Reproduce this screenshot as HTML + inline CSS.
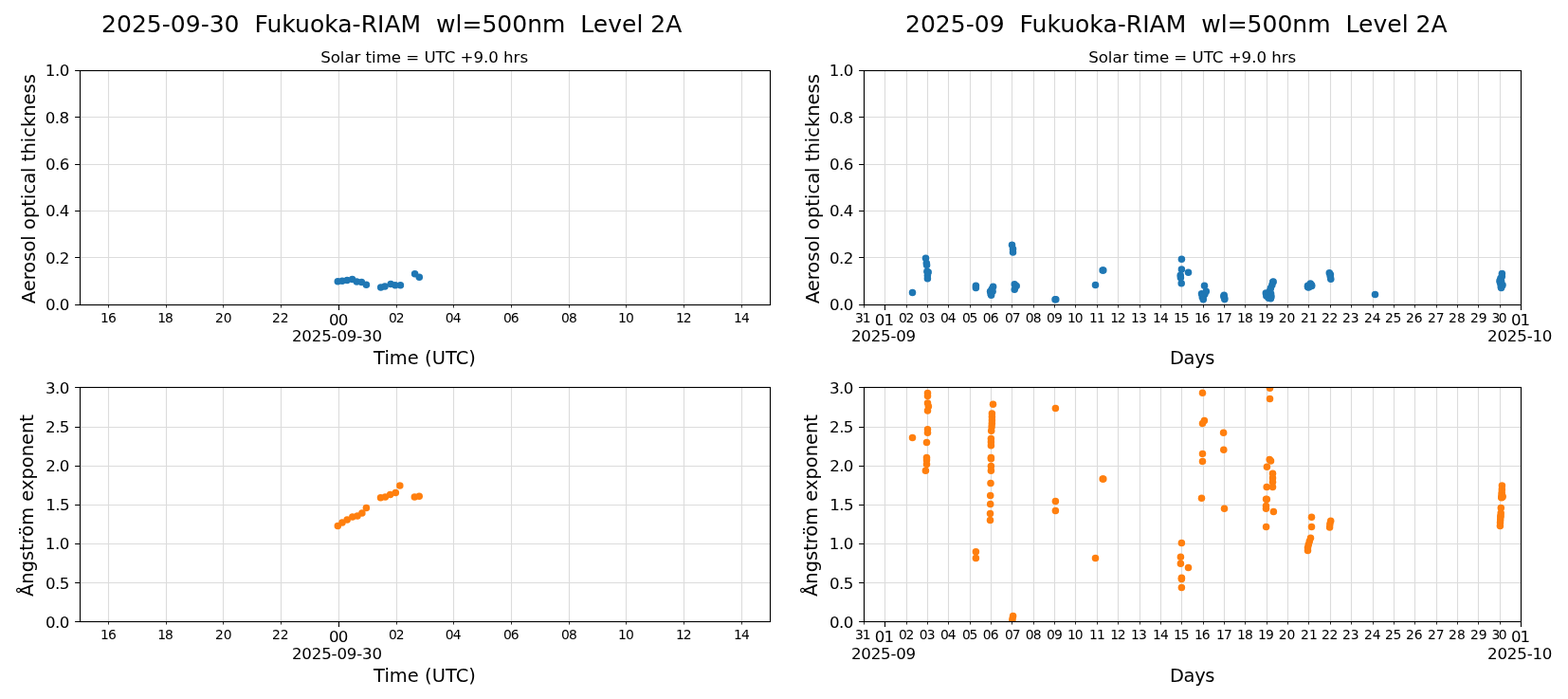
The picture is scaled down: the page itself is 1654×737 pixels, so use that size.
<!DOCTYPE html>
<html lang="en">
<head>
<meta charset="utf-8">
<title>Fukuoka-RIAM aerosol optical thickness</title>
<style>
html,body{margin:0;padding:0;background:#fff;overflow:hidden}
svg{display:block}
text{white-space:pre}
</style>
</head>
<body>
<svg width="1654" height="737" viewBox="0 0 1654 737" font-family='"DejaVu Sans", "Liberation Sans", sans-serif' fill="#000">
<rect width="1654" height="737" fill="#fff"/>
<defs>
<clipPath id="clip-tl"><rect x="84.5" y="74.5" width="728.0" height="247.0"/></clipPath>
<clipPath id="clip-bl"><rect x="84.5" y="408.5" width="728.0" height="247.0"/></clipPath>
<clipPath id="clip-tr"><rect x="911.5" y="74.5" width="693.0" height="247.0"/></clipPath>
<clipPath id="clip-br"><rect x="911.5" y="408.5" width="693.0" height="247.0"/></clipPath>
</defs>
<text id="title_l" x="413.25" y="34.00" font-size="25.000" text-anchor="middle" textLength="612.27" lengthAdjust="spacing">2025-09-30  Fukuoka-RIAM  wl=500nm  Level 2A</text>
<text id="title_r" x="1240.82" y="34.00" font-size="25.000" text-anchor="middle" textLength="571.64" lengthAdjust="spacing">2025-09  Fukuoka-RIAM  wl=500nm  Level 2A</text>
<g id="ax-tl">
<path d="M114.5 74.5V321.5M175.5 74.5V321.5M235.5 74.5V321.5M296.5 74.5V321.5M357.5 74.5V321.5M418.5 74.5V321.5M478.5 74.5V321.5M539.5 74.5V321.5M600.5 74.5V321.5M660.5 74.5V321.5M721.5 74.5V321.5M782.5 74.5V321.5M84.5 74.5H812.5M84.5 123.5H812.5M84.5 173.5H812.5M84.5 222.5H812.5M84.5 271.5H812.5M84.5 321.5H812.5" stroke="#dcdcdc" stroke-width="1.11" fill="none"/>
<g fill="#1f77b4" clip-path="url(#clip-tl)">
<circle cx="356.3" cy="296.7" r="3.75"/>
<circle cx="361.0" cy="296.2" r="3.75"/>
<circle cx="366.1" cy="295.6" r="3.75"/>
<circle cx="371.6" cy="294.5" r="3.75"/>
<circle cx="376.3" cy="297.0" r="3.75"/>
<circle cx="381.4" cy="297.4" r="3.75"/>
<circle cx="386.4" cy="300.3" r="3.75"/>
<circle cx="401.7" cy="302.9" r="3.75"/>
<circle cx="406.0" cy="302.1" r="3.75"/>
<circle cx="412.2" cy="299.6" r="3.75"/>
<circle cx="416.9" cy="300.7" r="3.75"/>
<circle cx="422.4" cy="300.7" r="3.75"/>
<circle cx="437.6" cy="288.7" r="3.75"/>
<circle cx="442.3" cy="292.3" r="3.75"/>
</g>
<path d="M84.5 74.5h-5.4M84.5 123.5h-5.4M84.5 173.5h-5.4M84.5 222.5h-5.4M84.5 271.5h-5.4M84.5 321.5h-5.4M357.5 321.5v5.4" stroke="#000" stroke-width="1.11" fill="none"/>
<path d="M114.5 321.5v3M175.5 321.5v3M235.5 321.5v3M296.5 321.5v3M418.5 321.5v3M478.5 321.5v3M539.5 321.5v3M600.5 321.5v3M660.5 321.5v3M721.5 321.5v3M782.5 321.5v3" stroke="#000" stroke-width="0.83" fill="none"/>
<rect x="84.5" y="74.5" width="728.0" height="247.0" fill="none" stroke="#000" stroke-width="1.11" stroke-linejoin="miter"/>
<text id="yt_tl_1.0" x="73.34" y="80.00" font-size="16.667" text-anchor="end" textLength="25.53" lengthAdjust="spacing">1.0</text>
<text id="yt_tl_0.8" x="73.06" y="130.00" font-size="16.667" text-anchor="end" textLength="25.26" lengthAdjust="spacing">0.8</text>
<text id="yt_tl_0.6" x="73.40" y="179.00" font-size="16.667" text-anchor="end" textLength="25.40" lengthAdjust="spacing">0.6</text>
<text id="yt_tl_0.4" x="73.40" y="228.00" font-size="16.667" text-anchor="end" textLength="25.35" lengthAdjust="spacing">0.4</text>
<text id="yt_tl_0.2" x="73.47" y="278.00" font-size="16.667" text-anchor="end" textLength="25.55" lengthAdjust="spacing">0.2</text>
<text id="yt_tl_0.0" x="73.38" y="327.00" font-size="16.667" text-anchor="end" textLength="25.32" lengthAdjust="spacing">0.0</text>
<text id="xt_tl_m16" x="114.41" y="340.00" font-size="13.889" text-anchor="middle" textLength="16.71" lengthAdjust="spacing">16</text>
<text id="xt_tl_m18" x="174.51" y="340.00" font-size="13.889" text-anchor="middle" textLength="16.77" lengthAdjust="spacing">18</text>
<text id="xt_tl_m20" x="235.77" y="340.00" font-size="13.889" text-anchor="middle" textLength="17.56" lengthAdjust="spacing">20</text>
<text id="xt_tl_m22" x="295.74" y="340.00" font-size="13.889" text-anchor="middle" textLength="17.54" lengthAdjust="spacing">22</text>
<text id="xt_tl_M0" x="357.12" y="343.00" font-size="16.667" text-anchor="middle" textLength="20.26" lengthAdjust="spacing">00</text>
<text id="xt_tl_M0_2" x="355.53" y="360.00" font-size="16.667" text-anchor="middle" textLength="95.14" lengthAdjust="spacing">2025-09-30</text>
<text id="xt_tl_m02" x="418.28" y="340.00" font-size="13.889" text-anchor="middle" textLength="16.75" lengthAdjust="spacing">02</text>
<text id="xt_tl_m04" x="478.26" y="340.00" font-size="13.889" text-anchor="middle" textLength="16.82" lengthAdjust="spacing">04</text>
<text id="xt_tl_m06" x="539.35" y="340.00" font-size="13.889" text-anchor="middle" textLength="16.61" lengthAdjust="spacing">06</text>
<text id="xt_tl_m08" x="600.35" y="340.00" font-size="13.889" text-anchor="middle" textLength="16.71" lengthAdjust="spacing">08</text>
<text id="xt_tl_m10" x="660.43" y="340.00" font-size="13.889" text-anchor="middle" textLength="16.69" lengthAdjust="spacing">10</text>
<text id="xt_tl_m12" x="721.35" y="340.00" font-size="13.889" text-anchor="middle" textLength="16.56" lengthAdjust="spacing">12</text>
<text id="xt_tl_m14" x="782.45" y="340.00" font-size="13.889" text-anchor="middle" textLength="16.68" lengthAdjust="spacing">14</text>
<text id="xl_tl" x="448.00" y="384.00" font-size="19.444" text-anchor="middle" textLength="107.88" lengthAdjust="spacing">Time (UTC)</text>
<text id="yl_tl" transform="translate(37.00,199.20) rotate(-90)" font-size="19.444" text-anchor="middle" textLength="242.22" lengthAdjust="spacing">Aerosol optical thickness</text>
<text id="sub_tl" x="447.61" y="66.00" font-size="16.667" text-anchor="middle" textLength="218.96" lengthAdjust="spacing">Solar time = UTC +9.0 hrs</text>
</g>
<g id="ax-bl">
<path d="M114.5 408.5V655.5M175.5 408.5V655.5M235.5 408.5V655.5M296.5 408.5V655.5M357.5 408.5V655.5M418.5 408.5V655.5M478.5 408.5V655.5M539.5 408.5V655.5M600.5 408.5V655.5M660.5 408.5V655.5M721.5 408.5V655.5M782.5 408.5V655.5M84.5 408.5H812.5M84.5 450.5H812.5M84.5 491.5H812.5M84.5 532.5H812.5M84.5 573.5H812.5M84.5 614.5H812.5M84.5 655.5H812.5" stroke="#dcdcdc" stroke-width="1.11" fill="none"/>
<g fill="#ff7f0e" clip-path="url(#clip-bl)">
<circle cx="356.3" cy="554.4" r="3.75"/>
<circle cx="361.0" cy="550.9" r="3.75"/>
<circle cx="366.2" cy="548.0" r="3.75"/>
<circle cx="371.8" cy="544.9" r="3.75"/>
<circle cx="377.0" cy="544.0" r="3.75"/>
<circle cx="381.9" cy="541.1" r="3.75"/>
<circle cx="386.4" cy="535.4" r="3.75"/>
<circle cx="401.5" cy="524.8" r="3.75"/>
<circle cx="406.4" cy="524.0" r="3.75"/>
<circle cx="411.6" cy="521.6" r="3.75"/>
<circle cx="417.3" cy="519.5" r="3.75"/>
<circle cx="421.8" cy="512.0" r="3.75"/>
<circle cx="437.3" cy="524.0" r="3.75"/>
<circle cx="442.2" cy="523.2" r="3.75"/>
</g>
<path d="M84.5 408.5h-5.4M84.5 450.5h-5.4M84.5 491.5h-5.4M84.5 532.5h-5.4M84.5 573.5h-5.4M84.5 614.5h-5.4M84.5 655.5h-5.4M357.5 655.5v5.4" stroke="#000" stroke-width="1.11" fill="none"/>
<path d="M114.5 655.5v3M175.5 655.5v3M235.5 655.5v3M296.5 655.5v3M418.5 655.5v3M478.5 655.5v3M539.5 655.5v3M600.5 655.5v3M660.5 655.5v3M721.5 655.5v3M782.5 655.5v3" stroke="#000" stroke-width="0.83" fill="none"/>
<rect x="84.5" y="408.5" width="728.0" height="247.0" fill="none" stroke="#000" stroke-width="1.11" stroke-linejoin="miter"/>
<text id="yt_bl_3.0" x="73.42" y="415.00" font-size="16.667" text-anchor="end" textLength="25.42" lengthAdjust="spacing">3.0</text>
<text id="yt_bl_2.5" x="73.46" y="456.00" font-size="16.667" text-anchor="end" textLength="25.36" lengthAdjust="spacing">2.5</text>
<text id="yt_bl_2.0" x="73.44" y="497.00" font-size="16.667" text-anchor="end" textLength="25.31" lengthAdjust="spacing">2.0</text>
<text id="yt_bl_1.5" x="73.61" y="538.00" font-size="16.667" text-anchor="end" textLength="25.45" lengthAdjust="spacing">1.5</text>
<text id="yt_bl_1.0" x="73.34" y="579.00" font-size="16.667" text-anchor="end" textLength="25.53" lengthAdjust="spacing">1.0</text>
<text id="yt_bl_0.5" x="73.43" y="621.00" font-size="16.667" text-anchor="end" textLength="25.49" lengthAdjust="spacing">0.5</text>
<text id="yt_bl_0.0" x="73.38" y="662.00" font-size="16.667" text-anchor="end" textLength="25.32" lengthAdjust="spacing">0.0</text>
<text id="xt_bl_m16" x="114.41" y="674.00" font-size="13.889" text-anchor="middle" textLength="16.71" lengthAdjust="spacing">16</text>
<text id="xt_bl_m18" x="174.51" y="674.00" font-size="13.889" text-anchor="middle" textLength="16.77" lengthAdjust="spacing">18</text>
<text id="xt_bl_m20" x="235.77" y="674.00" font-size="13.889" text-anchor="middle" textLength="17.56" lengthAdjust="spacing">20</text>
<text id="xt_bl_m22" x="295.74" y="674.00" font-size="13.889" text-anchor="middle" textLength="17.54" lengthAdjust="spacing">22</text>
<text id="xt_bl_M0" x="357.12" y="677.00" font-size="16.667" text-anchor="middle" textLength="20.26" lengthAdjust="spacing">00</text>
<text id="xt_bl_M0_2" x="355.53" y="695.00" font-size="16.667" text-anchor="middle" textLength="95.14" lengthAdjust="spacing">2025-09-30</text>
<text id="xt_bl_m02" x="418.28" y="674.00" font-size="13.889" text-anchor="middle" textLength="16.75" lengthAdjust="spacing">02</text>
<text id="xt_bl_m04" x="478.26" y="674.00" font-size="13.889" text-anchor="middle" textLength="16.82" lengthAdjust="spacing">04</text>
<text id="xt_bl_m06" x="539.35" y="674.00" font-size="13.889" text-anchor="middle" textLength="16.61" lengthAdjust="spacing">06</text>
<text id="xt_bl_m08" x="600.35" y="674.00" font-size="13.889" text-anchor="middle" textLength="16.71" lengthAdjust="spacing">08</text>
<text id="xt_bl_m10" x="660.43" y="674.00" font-size="13.889" text-anchor="middle" textLength="16.69" lengthAdjust="spacing">10</text>
<text id="xt_bl_m12" x="721.35" y="674.00" font-size="13.889" text-anchor="middle" textLength="16.56" lengthAdjust="spacing">12</text>
<text id="xt_bl_m14" x="782.45" y="674.00" font-size="13.889" text-anchor="middle" textLength="16.68" lengthAdjust="spacing">14</text>
<text id="xl_bl" x="448.00" y="719.00" font-size="19.444" text-anchor="middle" textLength="107.88" lengthAdjust="spacing">Time (UTC)</text>
<text id="yl_bl" transform="translate(35.00,533.00) rotate(-90)" font-size="19.444" text-anchor="middle">Ångström exponent</text>
</g>
<g id="ax-tr">
<path d="M911.5 74.5V321.5M933.5 74.5V321.5M956.5 74.5V321.5M978.5 74.5V321.5M1000.5 74.5V321.5M1023.5 74.5V321.5M1045.5 74.5V321.5M1067.5 74.5V321.5M1090.5 74.5V321.5M1112.5 74.5V321.5M1134.5 74.5V321.5M1157.5 74.5V321.5M1179.5 74.5V321.5M1202.5 74.5V321.5M1224.5 74.5V321.5M1246.5 74.5V321.5M1269.5 74.5V321.5M1291.5 74.5V321.5M1313.5 74.5V321.5M1336.5 74.5V321.5M1358.5 74.5V321.5M1380.5 74.5V321.5M1403.5 74.5V321.5M1425.5 74.5V321.5M1448.5 74.5V321.5M1470.5 74.5V321.5M1492.5 74.5V321.5M1515.5 74.5V321.5M1537.5 74.5V321.5M1559.5 74.5V321.5M1582.5 74.5V321.5M1604.5 74.5V321.5M911.5 74.5H1604.5M911.5 123.5H1604.5M911.5 173.5H1604.5M911.5 222.5H1604.5M911.5 271.5H1604.5M911.5 321.5H1604.5" stroke="#dcdcdc" stroke-width="1.11" fill="none"/>
<g fill="#1f77b4" clip-path="url(#clip-tr)">
<circle cx="962.5" cy="308.4" r="3.75"/>
<circle cx="976.5" cy="272.3" r="3.75"/>
<circle cx="977.3" cy="277.6" r="3.75"/>
<circle cx="977.6" cy="279.4" r="3.75"/>
<circle cx="977.9" cy="286.3" r="3.75"/>
<circle cx="979.2" cy="287.0" r="3.75"/>
<circle cx="978.4" cy="290.4" r="3.75"/>
<circle cx="978.4" cy="293.8" r="3.75"/>
<circle cx="1029.4" cy="301.2" r="3.75"/>
<circle cx="1029.4" cy="303.5" r="3.75"/>
<circle cx="1047.6" cy="302.2" r="3.75"/>
<circle cx="1046.3" cy="304.7" r="3.75"/>
<circle cx="1044.6" cy="307.2" r="3.75"/>
<circle cx="1047.1" cy="307.2" r="3.75"/>
<circle cx="1045.1" cy="309.7" r="3.75"/>
<circle cx="1045.6" cy="311.2" r="3.75"/>
<circle cx="1067.5" cy="258.2" r="3.75"/>
<circle cx="1068.5" cy="262.6" r="3.75"/>
<circle cx="1068.5" cy="266.1" r="3.75"/>
<circle cx="1070.2" cy="299.7" r="3.75"/>
<circle cx="1072.2" cy="301.4" r="3.75"/>
<circle cx="1070.2" cy="305.2" r="3.75"/>
<circle cx="1113.0" cy="315.8" r="3.75"/>
<circle cx="1113.8" cy="315.8" r="3.75"/>
<circle cx="1155.5" cy="300.4" r="3.75"/>
<circle cx="1163.1" cy="284.9" r="3.75"/>
<circle cx="1163.8" cy="285.0" r="3.75"/>
<circle cx="1246.4" cy="273.3" r="3.75"/>
<circle cx="1246.4" cy="284.1" r="3.75"/>
<circle cx="1253.5" cy="287.3" r="3.75"/>
<circle cx="1245.2" cy="290.2" r="3.75"/>
<circle cx="1245.4" cy="292.7" r="3.75"/>
<circle cx="1246.2" cy="298.7" r="3.75"/>
<circle cx="1270.5" cy="301.2" r="3.75"/>
<circle cx="1272.3" cy="307.2" r="3.75"/>
<circle cx="1267.5" cy="309.7" r="3.75"/>
<circle cx="1270.8" cy="310.2" r="3.75"/>
<circle cx="1269.3" cy="312.2" r="3.75"/>
<circle cx="1268.3" cy="313.3" r="3.75"/>
<circle cx="1269.3" cy="315.8" r="3.75"/>
<circle cx="1291.2" cy="311.2" r="3.75"/>
<circle cx="1290.8" cy="312.6" r="3.75"/>
<circle cx="1291.6" cy="313.9" r="3.75"/>
<circle cx="1291.8" cy="315.6" r="3.75"/>
<circle cx="1343.1" cy="296.9" r="3.75"/>
<circle cx="1342.7" cy="297.5" r="3.75"/>
<circle cx="1341.8" cy="300.4" r="3.75"/>
<circle cx="1340.4" cy="303.7" r="3.75"/>
<circle cx="1339.6" cy="306.6" r="3.75"/>
<circle cx="1335.3" cy="309.0" r="3.75"/>
<circle cx="1335.8" cy="312.0" r="3.75"/>
<circle cx="1338.0" cy="309.5" r="3.75"/>
<circle cx="1340.6" cy="309.7" r="3.75"/>
<circle cx="1341.0" cy="312.8" r="3.75"/>
<circle cx="1338.1" cy="314.3" r="3.75"/>
<circle cx="1340.4" cy="314.7" r="3.75"/>
<circle cx="1379.5" cy="301.3" r="3.75"/>
<circle cx="1379.5" cy="302.4" r="3.75"/>
<circle cx="1380.3" cy="303.0" r="3.75"/>
<circle cx="1381.3" cy="302.2" r="3.75"/>
<circle cx="1382.3" cy="299.0" r="3.75"/>
<circle cx="1383.5" cy="300.4" r="3.75"/>
<circle cx="1383.7" cy="301.5" r="3.75"/>
<circle cx="1402.3" cy="287.7" r="3.75"/>
<circle cx="1403.4" cy="289.6" r="3.75"/>
<circle cx="1403.3" cy="291.2" r="3.75"/>
<circle cx="1403.8" cy="294.2" r="3.75"/>
<circle cx="1450.5" cy="310.5" r="3.75"/>
<circle cx="1584.4" cy="288.4" r="3.75"/>
<circle cx="1584.3" cy="291.6" r="3.75"/>
<circle cx="1582.9" cy="293.6" r="3.75"/>
<circle cx="1582.0" cy="295.9" r="3.75"/>
<circle cx="1583.6" cy="296.4" r="3.75"/>
<circle cx="1582.3" cy="297.6" r="3.75"/>
<circle cx="1583.0" cy="299.5" r="3.75"/>
<circle cx="1585.0" cy="300.6" r="3.75"/>
<circle cx="1584.2" cy="301.5" r="3.75"/>
<circle cx="1583.3" cy="302.5" r="3.75"/>
<circle cx="1583.6" cy="303.6" r="3.75"/>
</g>
<path d="M911.5 74.5h-5.4M911.5 123.5h-5.4M911.5 173.5h-5.4M911.5 222.5h-5.4M911.5 271.5h-5.4M911.5 321.5h-5.4M933.5 321.5v5.4M1604.5 321.5v5.4" stroke="#000" stroke-width="1.11" fill="none"/>
<path d="M911.5 321.5v3M956.5 321.5v3M978.5 321.5v3M1000.5 321.5v3M1023.5 321.5v3M1045.5 321.5v3M1067.5 321.5v3M1090.5 321.5v3M1112.5 321.5v3M1134.5 321.5v3M1157.5 321.5v3M1179.5 321.5v3M1202.5 321.5v3M1224.5 321.5v3M1246.5 321.5v3M1269.5 321.5v3M1291.5 321.5v3M1313.5 321.5v3M1336.5 321.5v3M1358.5 321.5v3M1380.5 321.5v3M1403.5 321.5v3M1425.5 321.5v3M1448.5 321.5v3M1470.5 321.5v3M1492.5 321.5v3M1515.5 321.5v3M1537.5 321.5v3M1559.5 321.5v3M1582.5 321.5v3" stroke="#000" stroke-width="0.83" fill="none"/>
<rect x="911.5" y="74.5" width="693.0" height="247.0" fill="none" stroke="#000" stroke-width="1.11" stroke-linejoin="miter"/>
<text id="yt_tr_1.0" x="900.34" y="80.00" font-size="16.667" text-anchor="end" textLength="25.53" lengthAdjust="spacing">1.0</text>
<text id="yt_tr_0.8" x="900.06" y="130.00" font-size="16.667" text-anchor="end" textLength="25.26" lengthAdjust="spacing">0.8</text>
<text id="yt_tr_0.6" x="900.40" y="179.00" font-size="16.667" text-anchor="end" textLength="25.40" lengthAdjust="spacing">0.6</text>
<text id="yt_tr_0.4" x="900.40" y="228.00" font-size="16.667" text-anchor="end" textLength="25.35" lengthAdjust="spacing">0.4</text>
<text id="yt_tr_0.2" x="900.47" y="278.00" font-size="16.667" text-anchor="end" textLength="25.55" lengthAdjust="spacing">0.2</text>
<text id="yt_tr_0.0" x="900.38" y="327.00" font-size="16.667" text-anchor="end" textLength="25.32" lengthAdjust="spacing">0.0</text>
<text id="xt_tr_m31" x="910.30" y="340.00" font-size="13.889" text-anchor="middle" textLength="16.79" lengthAdjust="spacing">31</text>
<text id="xt_tr_M0" x="933.04" y="343.00" font-size="16.667" text-anchor="middle" textLength="20.35" lengthAdjust="spacing">01</text>
<text id="xt_tr_M0_2" x="932.10" y="360.00" font-size="16.667" text-anchor="middle" textLength="68.21" lengthAdjust="spacing">2025-09</text>
<text id="xt_tr_m02" x="956.19" y="340.00" font-size="13.889" text-anchor="middle" textLength="16.48" lengthAdjust="spacing">02</text>
<text id="xt_tr_m03" x="978.22" y="340.00" font-size="13.889" text-anchor="middle" textLength="16.81" lengthAdjust="spacing">03</text>
<text id="xt_tr_m04" x="1000.21" y="340.00" font-size="13.889" text-anchor="middle" textLength="16.58" lengthAdjust="spacing">04</text>
<text id="xt_tr_m05" x="1023.22" y="340.00" font-size="13.889" text-anchor="middle" textLength="16.42" lengthAdjust="spacing">05</text>
<text id="xt_tr_m06" x="1045.19" y="340.00" font-size="13.889" text-anchor="middle" textLength="16.64" lengthAdjust="spacing">06</text>
<text id="xt_tr_m07" x="1068.28" y="340.00" font-size="13.889" text-anchor="middle" textLength="16.51" lengthAdjust="spacing">07</text>
<text id="xt_tr_m08" x="1090.20" y="340.00" font-size="13.889" text-anchor="middle" textLength="16.75" lengthAdjust="spacing">08</text>
<text id="xt_tr_m09" x="1112.37" y="340.00" font-size="13.889" text-anchor="middle" textLength="16.72" lengthAdjust="spacing">09</text>
<text id="xt_tr_m10" x="1134.35" y="340.00" font-size="13.889" text-anchor="middle" textLength="16.62" lengthAdjust="spacing">10</text>
<text id="xt_tr_m11" x="1157.45" y="340.00" font-size="13.889" text-anchor="middle" textLength="16.85" lengthAdjust="spacing">11</text>
<text id="xt_tr_m12" x="1179.34" y="340.00" font-size="13.889" text-anchor="middle" textLength="16.39" lengthAdjust="spacing">12</text>
<text id="xt_tr_m13" x="1201.40" y="340.00" font-size="13.889" text-anchor="middle" textLength="16.61" lengthAdjust="spacing">13</text>
<text id="xt_tr_m14" x="1224.43" y="340.00" font-size="13.889" text-anchor="middle" textLength="16.62" lengthAdjust="spacing">14</text>
<text id="xt_tr_m15" x="1246.39" y="340.00" font-size="13.889" text-anchor="middle" textLength="16.62" lengthAdjust="spacing">15</text>
<text id="xt_tr_m16" x="1268.33" y="340.00" font-size="13.889" text-anchor="middle" textLength="16.62" lengthAdjust="spacing">16</text>
<text id="xt_tr_m17" x="1291.36" y="340.00" font-size="13.889" text-anchor="middle" textLength="16.69" lengthAdjust="spacing">17</text>
<text id="xt_tr_m18" x="1313.43" y="340.00" font-size="13.889" text-anchor="middle" textLength="16.64" lengthAdjust="spacing">18</text>
<text id="xt_tr_m19" x="1335.42" y="340.00" font-size="13.889" text-anchor="middle" textLength="16.72" lengthAdjust="spacing">19</text>
<text id="xt_tr_m20" x="1357.64" y="340.00" font-size="13.889" text-anchor="middle" textLength="17.58" lengthAdjust="spacing">20</text>
<text id="xt_tr_m21" x="1380.89" y="340.00" font-size="13.889" text-anchor="middle" textLength="17.73" lengthAdjust="spacing">21</text>
<text id="xt_tr_m22" x="1402.64" y="340.00" font-size="13.889" text-anchor="middle" textLength="17.53" lengthAdjust="spacing">22</text>
<text id="xt_tr_m23" x="1424.78" y="340.00" font-size="13.889" text-anchor="middle" textLength="17.58" lengthAdjust="spacing">23</text>
<text id="xt_tr_m24" x="1447.80" y="340.00" font-size="13.889" text-anchor="middle" textLength="17.38" lengthAdjust="spacing">24</text>
<text id="xt_tr_m25" x="1469.68" y="340.00" font-size="13.889" text-anchor="middle" textLength="17.49" lengthAdjust="spacing">25</text>
<text id="xt_tr_m26" x="1491.86" y="340.00" font-size="13.889" text-anchor="middle" textLength="17.60" lengthAdjust="spacing">26</text>
<text id="xt_tr_m27" x="1514.73" y="340.00" font-size="13.889" text-anchor="middle" textLength="17.60" lengthAdjust="spacing">27</text>
<text id="xt_tr_m28" x="1536.88" y="340.00" font-size="13.889" text-anchor="middle" textLength="17.80" lengthAdjust="spacing">28</text>
<text id="xt_tr_m29" x="1559.75" y="340.00" font-size="13.889" text-anchor="middle" textLength="17.72" lengthAdjust="spacing">29</text>
<text id="xt_tr_m30" x="1581.49" y="340.00" font-size="13.889" text-anchor="middle" textLength="16.20" lengthAdjust="spacing">30</text>
<text id="xt_tr_M1" x="1604.07" y="343.00" font-size="16.667" text-anchor="middle" textLength="20.32" lengthAdjust="spacing">01</text>
<text id="xt_tr_M1_2" x="1603.25" y="360.00" font-size="16.667" text-anchor="middle" textLength="68.34" lengthAdjust="spacing">2025-10</text>
<text id="xl_tr" x="1257.72" y="384.00" font-size="19.444" text-anchor="middle" textLength="47.50" lengthAdjust="spacing">Days</text>
<text id="yl_tr" transform="translate(864.00,199.20) rotate(-90)" font-size="19.444" text-anchor="middle" textLength="242.22" lengthAdjust="spacing">Aerosol optical thickness</text>
<text id="sub_tr" x="1257.68" y="66.00" font-size="16.667" text-anchor="middle" textLength="219.11" lengthAdjust="spacing">Solar time = UTC +9.0 hrs</text>
</g>
<g id="ax-br">
<path d="M911.5 408.5V655.5M933.5 408.5V655.5M956.5 408.5V655.5M978.5 408.5V655.5M1000.5 408.5V655.5M1023.5 408.5V655.5M1045.5 408.5V655.5M1067.5 408.5V655.5M1090.5 408.5V655.5M1112.5 408.5V655.5M1134.5 408.5V655.5M1157.5 408.5V655.5M1179.5 408.5V655.5M1202.5 408.5V655.5M1224.5 408.5V655.5M1246.5 408.5V655.5M1269.5 408.5V655.5M1291.5 408.5V655.5M1313.5 408.5V655.5M1336.5 408.5V655.5M1358.5 408.5V655.5M1380.5 408.5V655.5M1403.5 408.5V655.5M1425.5 408.5V655.5M1448.5 408.5V655.5M1470.5 408.5V655.5M1492.5 408.5V655.5M1515.5 408.5V655.5M1537.5 408.5V655.5M1559.5 408.5V655.5M1582.5 408.5V655.5M1604.5 408.5V655.5M911.5 408.5H1604.5M911.5 450.5H1604.5M911.5 491.5H1604.5M911.5 532.5H1604.5M911.5 573.5H1604.5M911.5 614.5H1604.5M911.5 655.5H1604.5" stroke="#dcdcdc" stroke-width="1.11" fill="none"/>
<g fill="#ff7f0e" clip-path="url(#clip-br)">
<circle cx="962.5" cy="461.4" r="3.75"/>
<circle cx="978.5" cy="414.5" r="3.75"/>
<circle cx="978.5" cy="417.6" r="3.75"/>
<circle cx="978.5" cy="425.1" r="3.75"/>
<circle cx="979.4" cy="428.6" r="3.75"/>
<circle cx="978.5" cy="433.1" r="3.75"/>
<circle cx="978.5" cy="452.7" r="3.75"/>
<circle cx="978.5" cy="456.2" r="3.75"/>
<circle cx="977.5" cy="466.4" r="3.75"/>
<circle cx="977.5" cy="482.6" r="3.75"/>
<circle cx="977.5" cy="485.1" r="3.75"/>
<circle cx="977.5" cy="489.6" r="3.75"/>
<circle cx="976.4" cy="496.3" r="3.75"/>
<circle cx="1029.4" cy="581.7" r="3.75"/>
<circle cx="1029.4" cy="588.4" r="3.75"/>
<circle cx="1047.5" cy="426.3" r="3.75"/>
<circle cx="1046.4" cy="436.1" r="3.75"/>
<circle cx="1046.4" cy="439.6" r="3.75"/>
<circle cx="1046.4" cy="443.1" r="3.75"/>
<circle cx="1046.3" cy="446.6" r="3.75"/>
<circle cx="1046.1" cy="450.1" r="3.75"/>
<circle cx="1045.7" cy="454.2" r="3.75"/>
<circle cx="1045.4" cy="462.4" r="3.75"/>
<circle cx="1045.4" cy="465.9" r="3.75"/>
<circle cx="1045.4" cy="469.7" r="3.75"/>
<circle cx="1045.4" cy="482.5" r="3.75"/>
<circle cx="1045.4" cy="483.8" r="3.75"/>
<circle cx="1045.4" cy="491.4" r="3.75"/>
<circle cx="1045.4" cy="496.3" r="3.75"/>
<circle cx="1045.0" cy="509.4" r="3.75"/>
<circle cx="1044.7" cy="522.4" r="3.75"/>
<circle cx="1044.7" cy="531.4" r="3.75"/>
<circle cx="1044.5" cy="541.4" r="3.75"/>
<circle cx="1044.5" cy="548.4" r="3.75"/>
<circle cx="1068.6" cy="649.6" r="3.75"/>
<circle cx="1068.0" cy="652.5" r="3.75"/>
<circle cx="1067.8" cy="655.0" r="3.75"/>
<circle cx="1113.4" cy="430.6" r="3.75"/>
<circle cx="1113.4" cy="528.5" r="3.75"/>
<circle cx="1113.4" cy="538.4" r="3.75"/>
<circle cx="1155.5" cy="588.6" r="3.75"/>
<circle cx="1163.2" cy="504.9" r="3.75"/>
<circle cx="1163.8" cy="504.9" r="3.75"/>
<circle cx="1246.4" cy="572.5" r="3.75"/>
<circle cx="1245.4" cy="587.3" r="3.75"/>
<circle cx="1245.4" cy="594.2" r="3.75"/>
<circle cx="1253.5" cy="598.5" r="3.75"/>
<circle cx="1246.4" cy="609.3" r="3.75"/>
<circle cx="1246.4" cy="610.6" r="3.75"/>
<circle cx="1246.4" cy="619.5" r="3.75"/>
<circle cx="1268.5" cy="414.3" r="3.75"/>
<circle cx="1270.4" cy="443.4" r="3.75"/>
<circle cx="1268.5" cy="446.4" r="3.75"/>
<circle cx="1268.5" cy="478.4" r="3.75"/>
<circle cx="1268.5" cy="486.4" r="3.75"/>
<circle cx="1267.5" cy="525.2" r="3.75"/>
<circle cx="1290.6" cy="456.2" r="3.75"/>
<circle cx="1290.8" cy="474.3" r="3.75"/>
<circle cx="1291.5" cy="536.2" r="3.75"/>
<circle cx="1339.5" cy="409.2" r="3.75"/>
<circle cx="1339.5" cy="420.6" r="3.75"/>
<circle cx="1339.2" cy="484.4" r="3.75"/>
<circle cx="1340.5" cy="486.1" r="3.75"/>
<circle cx="1336.4" cy="492.3" r="3.75"/>
<circle cx="1342.5" cy="499.3" r="3.75"/>
<circle cx="1342.5" cy="504.0" r="3.75"/>
<circle cx="1342.5" cy="508.3" r="3.75"/>
<circle cx="1342.5" cy="513.5" r="3.75"/>
<circle cx="1336.2" cy="513.5" r="3.75"/>
<circle cx="1335.6" cy="526.2" r="3.75"/>
<circle cx="1336.3" cy="526.6" r="3.75"/>
<circle cx="1335.5" cy="533.4" r="3.75"/>
<circle cx="1335.5" cy="536.2" r="3.75"/>
<circle cx="1343.4" cy="539.4" r="3.75"/>
<circle cx="1335.6" cy="555.4" r="3.75"/>
<circle cx="1383.5" cy="545.3" r="3.75"/>
<circle cx="1383.5" cy="555.4" r="3.75"/>
<circle cx="1382.5" cy="567.2" r="3.75"/>
<circle cx="1381.3" cy="570.7" r="3.75"/>
<circle cx="1380.3" cy="574.2" r="3.75"/>
<circle cx="1379.5" cy="577.4" r="3.75"/>
<circle cx="1379.5" cy="580.4" r="3.75"/>
<circle cx="1403.7" cy="549.3" r="3.75"/>
<circle cx="1402.9" cy="552.6" r="3.75"/>
<circle cx="1402.6" cy="556.1" r="3.75"/>
<circle cx="1582.4" cy="554.4" r="3.75"/>
<circle cx="1582.5" cy="550.9" r="3.75"/>
<circle cx="1582.7" cy="548.0" r="3.75"/>
<circle cx="1582.8" cy="544.9" r="3.75"/>
<circle cx="1583.0" cy="544.0" r="3.75"/>
<circle cx="1583.2" cy="541.1" r="3.75"/>
<circle cx="1583.3" cy="535.4" r="3.75"/>
<circle cx="1583.8" cy="524.8" r="3.75"/>
<circle cx="1583.9" cy="524.0" r="3.75"/>
<circle cx="1584.1" cy="521.6" r="3.75"/>
<circle cx="1584.2" cy="519.5" r="3.75"/>
<circle cx="1584.4" cy="512.0" r="3.75"/>
<circle cx="1584.9" cy="524.0" r="3.75"/>
<circle cx="1585.0" cy="523.2" r="3.75"/>
<circle cx="1584.3" cy="515.9" r="3.75"/>
</g>
<path d="M911.5 408.5h-5.4M911.5 450.5h-5.4M911.5 491.5h-5.4M911.5 532.5h-5.4M911.5 573.5h-5.4M911.5 614.5h-5.4M911.5 655.5h-5.4M933.5 655.5v5.4M1604.5 655.5v5.4" stroke="#000" stroke-width="1.11" fill="none"/>
<path d="M911.5 655.5v3M956.5 655.5v3M978.5 655.5v3M1000.5 655.5v3M1023.5 655.5v3M1045.5 655.5v3M1067.5 655.5v3M1090.5 655.5v3M1112.5 655.5v3M1134.5 655.5v3M1157.5 655.5v3M1179.5 655.5v3M1202.5 655.5v3M1224.5 655.5v3M1246.5 655.5v3M1269.5 655.5v3M1291.5 655.5v3M1313.5 655.5v3M1336.5 655.5v3M1358.5 655.5v3M1380.5 655.5v3M1403.5 655.5v3M1425.5 655.5v3M1448.5 655.5v3M1470.5 655.5v3M1492.5 655.5v3M1515.5 655.5v3M1537.5 655.5v3M1559.5 655.5v3M1582.5 655.5v3" stroke="#000" stroke-width="0.83" fill="none"/>
<rect x="911.5" y="408.5" width="693.0" height="247.0" fill="none" stroke="#000" stroke-width="1.11" stroke-linejoin="miter"/>
<text id="yt_br_3.0" x="900.42" y="415.00" font-size="16.667" text-anchor="end" textLength="25.42" lengthAdjust="spacing">3.0</text>
<text id="yt_br_2.5" x="900.46" y="456.00" font-size="16.667" text-anchor="end" textLength="25.36" lengthAdjust="spacing">2.5</text>
<text id="yt_br_2.0" x="900.44" y="497.00" font-size="16.667" text-anchor="end" textLength="25.31" lengthAdjust="spacing">2.0</text>
<text id="yt_br_1.5" x="900.61" y="538.00" font-size="16.667" text-anchor="end" textLength="25.45" lengthAdjust="spacing">1.5</text>
<text id="yt_br_1.0" x="900.34" y="579.00" font-size="16.667" text-anchor="end" textLength="25.53" lengthAdjust="spacing">1.0</text>
<text id="yt_br_0.5" x="900.43" y="621.00" font-size="16.667" text-anchor="end" textLength="25.49" lengthAdjust="spacing">0.5</text>
<text id="yt_br_0.0" x="900.38" y="662.00" font-size="16.667" text-anchor="end" textLength="25.32" lengthAdjust="spacing">0.0</text>
<text id="xt_br_m31" x="910.30" y="674.00" font-size="13.889" text-anchor="middle" textLength="16.79" lengthAdjust="spacing">31</text>
<text id="xt_br_M0" x="933.04" y="677.00" font-size="16.667" text-anchor="middle" textLength="20.35" lengthAdjust="spacing">01</text>
<text id="xt_br_M0_2" x="932.10" y="695.00" font-size="16.667" text-anchor="middle" textLength="68.21" lengthAdjust="spacing">2025-09</text>
<text id="xt_br_m02" x="956.19" y="674.00" font-size="13.889" text-anchor="middle" textLength="16.48" lengthAdjust="spacing">02</text>
<text id="xt_br_m03" x="978.22" y="674.00" font-size="13.889" text-anchor="middle" textLength="16.81" lengthAdjust="spacing">03</text>
<text id="xt_br_m04" x="1000.21" y="674.00" font-size="13.889" text-anchor="middle" textLength="16.58" lengthAdjust="spacing">04</text>
<text id="xt_br_m05" x="1023.22" y="674.00" font-size="13.889" text-anchor="middle" textLength="16.42" lengthAdjust="spacing">05</text>
<text id="xt_br_m06" x="1045.19" y="674.00" font-size="13.889" text-anchor="middle" textLength="16.64" lengthAdjust="spacing">06</text>
<text id="xt_br_m07" x="1068.28" y="674.00" font-size="13.889" text-anchor="middle" textLength="16.51" lengthAdjust="spacing">07</text>
<text id="xt_br_m08" x="1090.20" y="674.00" font-size="13.889" text-anchor="middle" textLength="16.75" lengthAdjust="spacing">08</text>
<text id="xt_br_m09" x="1112.37" y="674.00" font-size="13.889" text-anchor="middle" textLength="16.72" lengthAdjust="spacing">09</text>
<text id="xt_br_m10" x="1134.35" y="674.00" font-size="13.889" text-anchor="middle" textLength="16.62" lengthAdjust="spacing">10</text>
<text id="xt_br_m11" x="1157.45" y="674.00" font-size="13.889" text-anchor="middle" textLength="16.85" lengthAdjust="spacing">11</text>
<text id="xt_br_m12" x="1179.34" y="674.00" font-size="13.889" text-anchor="middle" textLength="16.39" lengthAdjust="spacing">12</text>
<text id="xt_br_m13" x="1201.40" y="674.00" font-size="13.889" text-anchor="middle" textLength="16.61" lengthAdjust="spacing">13</text>
<text id="xt_br_m14" x="1224.43" y="674.00" font-size="13.889" text-anchor="middle" textLength="16.62" lengthAdjust="spacing">14</text>
<text id="xt_br_m15" x="1246.39" y="674.00" font-size="13.889" text-anchor="middle" textLength="16.62" lengthAdjust="spacing">15</text>
<text id="xt_br_m16" x="1268.33" y="674.00" font-size="13.889" text-anchor="middle" textLength="16.62" lengthAdjust="spacing">16</text>
<text id="xt_br_m17" x="1291.36" y="674.00" font-size="13.889" text-anchor="middle" textLength="16.69" lengthAdjust="spacing">17</text>
<text id="xt_br_m18" x="1313.43" y="674.00" font-size="13.889" text-anchor="middle" textLength="16.64" lengthAdjust="spacing">18</text>
<text id="xt_br_m19" x="1335.42" y="674.00" font-size="13.889" text-anchor="middle" textLength="16.72" lengthAdjust="spacing">19</text>
<text id="xt_br_m20" x="1357.64" y="674.00" font-size="13.889" text-anchor="middle" textLength="17.58" lengthAdjust="spacing">20</text>
<text id="xt_br_m21" x="1380.89" y="674.00" font-size="13.889" text-anchor="middle" textLength="17.73" lengthAdjust="spacing">21</text>
<text id="xt_br_m22" x="1402.64" y="674.00" font-size="13.889" text-anchor="middle" textLength="17.53" lengthAdjust="spacing">22</text>
<text id="xt_br_m23" x="1424.78" y="674.00" font-size="13.889" text-anchor="middle" textLength="17.58" lengthAdjust="spacing">23</text>
<text id="xt_br_m24" x="1447.80" y="674.00" font-size="13.889" text-anchor="middle" textLength="17.38" lengthAdjust="spacing">24</text>
<text id="xt_br_m25" x="1469.68" y="674.00" font-size="13.889" text-anchor="middle" textLength="17.49" lengthAdjust="spacing">25</text>
<text id="xt_br_m26" x="1491.86" y="674.00" font-size="13.889" text-anchor="middle" textLength="17.60" lengthAdjust="spacing">26</text>
<text id="xt_br_m27" x="1514.73" y="674.00" font-size="13.889" text-anchor="middle" textLength="17.60" lengthAdjust="spacing">27</text>
<text id="xt_br_m28" x="1536.88" y="674.00" font-size="13.889" text-anchor="middle" textLength="17.80" lengthAdjust="spacing">28</text>
<text id="xt_br_m29" x="1559.75" y="674.00" font-size="13.889" text-anchor="middle" textLength="17.72" lengthAdjust="spacing">29</text>
<text id="xt_br_m30" x="1581.49" y="674.00" font-size="13.889" text-anchor="middle" textLength="16.20" lengthAdjust="spacing">30</text>
<text id="xt_br_M1" x="1604.07" y="677.00" font-size="16.667" text-anchor="middle" textLength="20.32" lengthAdjust="spacing">01</text>
<text id="xt_br_M1_2" x="1603.25" y="695.00" font-size="16.667" text-anchor="middle" textLength="68.34" lengthAdjust="spacing">2025-10</text>
<text id="xl_br" x="1257.72" y="719.00" font-size="19.444" text-anchor="middle" textLength="47.50" lengthAdjust="spacing">Days</text>
<text id="yl_br" transform="translate(862.00,533.00) rotate(-90)" font-size="19.444" text-anchor="middle">Ångström exponent</text>
</g>
</svg>
</body>
</html>
